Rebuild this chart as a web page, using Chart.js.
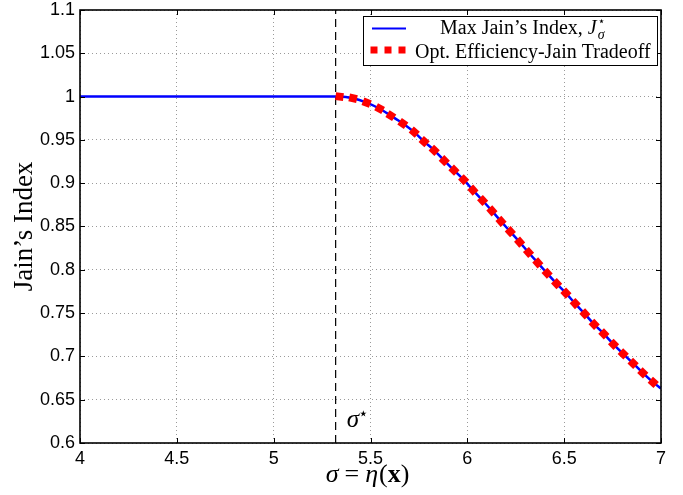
<!DOCTYPE html>
<html>
<head>
<meta charset="utf-8">
<script src="https://cdn.jsdelivr.net/npm/chart.js@4.4.1/dist/chart.umd.min.js"></script>
<style>
  html, body { margin: 0; padding: 0; background: #fff; }
  #wrap { width: 683px; height: 495px; position: relative; }
</style>
</head>
<body>
<div id="wrap"><canvas id="c" width="683" height="495"></canvas></div>
<script>
// ---- data ----
const sigmaStar = 5.32;
const dashX = [5.32, 5.32];
const dashY = [0.6, 1.1];

const jainX = [4.0, 5.32, 5.34, 5.41, 5.48, 5.547, 5.605, 5.667, 5.726, 5.777, 5.829, 5.881, 5.931, 5.981, 6.029, 6.079, 6.127, 6.174, 6.222, 6.27, 6.316, 6.364, 6.412, 6.461, 6.509, 6.557, 6.607, 6.655, 6.705, 6.755, 6.805, 6.856, 6.906, 6.96, 7.0];
const jainY = [1.0, 1.0, 1.0, 0.998, 0.993, 0.986, 0.978, 0.969, 0.959, 0.948, 0.938, 0.926, 0.915, 0.904, 0.892, 0.880, 0.868, 0.856, 0.844, 0.832, 0.820, 0.808, 0.796, 0.784, 0.773, 0.761, 0.749, 0.737, 0.726, 0.714, 0.703, 0.692, 0.681, 0.670, 0.663];

const tradeoffX = [5.34, 5.41, 5.48, 5.547, 5.605, 5.667, 5.726, 5.777, 5.829, 5.881, 5.931, 5.981, 6.029, 6.079, 6.127, 6.174, 6.222, 6.27, 6.316, 6.364, 6.412, 6.461, 6.509, 6.557, 6.607, 6.655, 6.705, 6.755, 6.805, 6.856, 6.906, 6.96];
const tradeoffY = [1.0, 0.998, 0.993, 0.986, 0.978, 0.969, 0.959, 0.948, 0.938, 0.926, 0.915, 0.904, 0.892, 0.880, 0.868, 0.856, 0.844, 0.832, 0.820, 0.808, 0.796, 0.784, 0.773, 0.761, 0.749, 0.737, 0.726, 0.714, 0.703, 0.692, 0.681, 0.670];

const xTickLabels = ['4', '4.5', '5', '5.5', '6', '6.5', '7'];
const yTickLabels = ['0.6', '0.65', '0.7', '0.75', '0.8', '0.85', '0.9', '0.95', '1', '1.05', '1.1'];

const legendLabels = ["Max Jain\u2019s Index, ", 'Opt. Efficiency-Jain Tradeoff'];
const yTitle = "Jain\u2019s Index";

const pts = (xs, ys) => xs.map((x, i) => ({ x: x, y: ys[i] }));

const SERIF = '"Liberation Serif", "Times New Roman", serif';
const SANS = '"Liberation Sans", Arial, sans-serif';

// marker rotation follows the local direction of the curve (in pixels)
function markerAngle(c) {
  const ch = c.chart;
  const xs = ch.scales.x, ys = ch.scales.y;
  const i = c.dataIndex;
  if (i === undefined || !xs || !ys) return 0;
  const i0 = Math.max(0, i - 1), i1 = Math.min(tradeoffX.length - 1, i + 1);
  const dx = xs.getPixelForValue(tradeoffX[i1]) - xs.getPixelForValue(tradeoffX[i0]);
  const dy = ys.getPixelForValue(tradeoffY[i1]) - ys.getPixelForValue(tradeoffY[i0]);
  return Math.atan2(dy, dx) * 180 / Math.PI;
}

const decorPlugin = {
  id: 'decor',
  afterDraw(chart) {
    const ctx = chart.ctx;
    const a = chart.chartArea;
    const xs = chart.scales.x, ys = chart.scales.y;
    ctx.save();
    // inner tick marks
    ctx.strokeStyle = '#000';
    ctx.lineWidth = 1;
    const tl = 5;
    xs.ticks.forEach(t => {
      const px = Math.round(xs.getPixelForValue(t.value)) + 0.5;
      ctx.beginPath();
      ctx.moveTo(px, a.bottom); ctx.lineTo(px, a.bottom - tl);
      ctx.moveTo(px, a.top); ctx.lineTo(px, a.top + tl);
      ctx.stroke();
    });
    ys.ticks.forEach(t => {
      const py = Math.round(ys.getPixelForValue(t.value)) + 0.5;
      ctx.beginPath();
      ctx.moveTo(a.left, py); ctx.lineTo(a.left + tl, py);
      ctx.moveTo(a.right, py); ctx.lineTo(a.right - tl, py);
      ctx.stroke();
    });
    // box
    ctx.lineWidth = 1.6;
    ctx.strokeRect(a.left, a.top, a.right - a.left, a.bottom - a.top);

    // legend
    const lx = 363, ly = 16, lw = 294, lh = 49;
    ctx.fillStyle = '#fff';
    ctx.fillRect(lx, ly, lw, lh);
    ctx.lineWidth = 1;
    ctx.strokeStyle = '#000';
    ctx.strokeRect(lx + 0.5, ly + 0.5, lw, lh);
    ctx.strokeStyle = '#0000ff';
    ctx.lineWidth = 2;
    ctx.beginPath();
    ctx.moveTo(372, 28.5); ctx.lineTo(406, 28.5);
    ctx.stroke();
    ctx.fillStyle = '#ff0000';
    [374, 388, 402].forEach(cx => ctx.fillRect(cx - 3.5, 50 - 3.5, 7, 7));
    ctx.fillStyle = '#000';
    ctx.textBaseline = 'alphabetic';
    ctx.textAlign = 'left';
    ctx.font = '20px ' + SERIF;
    ctx.fillText(legendLabels[0], 440, 34);
    let w = ctx.measureText(legendLabels[0]).width;
    ctx.font = 'italic 20px ' + SERIF;
    ctx.fillText('J', 440 + w, 34);
    const jw = ctx.measureText('J').width;
    ctx.font = '12px "DejaVu Sans", sans-serif';
    ctx.fillText('\u22C6', 440 + w + jw + 1, 25);
    ctx.font = 'italic 14px ' + SERIF;
    ctx.fillText('\u03C3', 440 + w + jw + 1, 39);
    ctx.font = '20px ' + SERIF;
    ctx.fillText(legendLabels[1], 415, 58);

    // y title
    ctx.save();
    ctx.translate(32, (a.top + a.bottom) / 2);
    ctx.rotate(-Math.PI / 2);
    ctx.textAlign = 'center';
    ctx.font = '27px ' + SERIF;
    ctx.fillText(yTitle, 0, 0);
    ctx.restore();

    // x title: sigma = eta(x)  [font, text, gap before, gap after]
    const parts = [
      ['italic 26px ' + SERIF, '\u03C3', 0, 0],
      ['26px ' + SERIF, '=', 6, 6],
      ['italic 26px ' + SERIF, '\u03B7', 0, 1],
      ['26px ' + SERIF, '(', 0, 0],
      ['bold 26px ' + SERIF, 'x', 0, 0],
      ['26px ' + SERIF, ')', 0, 0]
    ];
    let total = 0;
    parts.forEach(p => { ctx.font = p[0]; total += p[2] + ctx.measureText(p[1]).width + p[3]; });
    let cx = (a.left + a.right) / 2 - 3 - total / 2;
    parts.forEach(p => {
      ctx.font = p[0];
      cx += p[2];
      ctx.fillText(p[1], cx, 482);
      cx += ctx.measureText(p[1]).width + p[3];
    });

    // sigma star annotation
    const sx = xs.getPixelForValue(sigmaStar) + 11;
    ctx.font = 'italic 25px ' + SERIF;
    ctx.fillText('\u03C3', sx, a.bottom - 16);
    const sw = ctx.measureText('\u03C3').width;
    ctx.font = '17px "DejaVu Sans", sans-serif';
    ctx.fillText('\u22C6', sx + sw - 1, a.bottom - 24);
    ctx.restore();
  }
};

new Chart(document.getElementById('c'), {
  type: 'scatter',
  data: {
    datasets: [
      {
        label: legendLabels[1],
        data: pts(tradeoffX, tradeoffY),
        showLine: false,
        pointStyle: 'rect',
        pointRadius: 5.6,
        pointRotation: markerAngle,
        backgroundColor: '#ff0000',
        borderColor: '#ff0000',
        borderWidth: 0,
        order: 1
      },
      {
        label: 'Max Jain',
        data: pts(jainX, jainY),
        showLine: true,
        borderColor: '#0000ff',
        borderWidth: 2.5,
        pointRadius: 0,
        cubicInterpolationMode: 'monotone',
        fill: false,
        order: 2
      },
      {
        label: 'sigma star',
        data: pts(dashX, dashY),
        showLine: true,
        borderColor: '#000',
        borderWidth: 1.2,
        borderDash: [8, 5],
        pointRadius: 0,
        fill: false,
        order: 3
      }
    ]
  },
  options: {
    responsive: false,
    animation: false,
    events: [],
    layout: { padding: { left: 0, right: 22, top: 10, bottom: 0 } },
    plugins: { legend: { display: false }, tooltip: { enabled: false }, title: { display: false } },
    scales: {
      x: {
        type: 'linear',
        min: 4, max: 7,
        afterFit(s) { s.height = 52; s.paddingLeft = 0; s.paddingRight = 0; },
        grid: { color: '#9a9a9a', lineWidth: 1, drawTicks: false },
        border: { display: false, dash: [1, 3] },
        ticks: {
          stepSize: 0.5,
          padding: 5,
          color: '#000',
          font: { family: SANS, size: 18 },
          maxRotation: 0,
          callback: (v, i) => xTickLabels[i]
        }
      },
      y: {
        type: 'linear',
        min: 0.6, max: 1.1,
        afterFit(s) { s.width = 80; s.paddingTop = 0; s.paddingBottom = 0; },
        grid: { color: '#9a9a9a', lineWidth: 1, drawTicks: false },
        border: { display: false, dash: [1, 3] },
        ticks: {
          stepSize: 0.05,
          padding: 5,
          color: '#000',
          font: { family: SANS, size: 18 },
          callback: (v, i) => yTickLabels[i]
        }
      }
    }
  },
  plugins: [decorPlugin]
});
</script>
</body>
</html>
